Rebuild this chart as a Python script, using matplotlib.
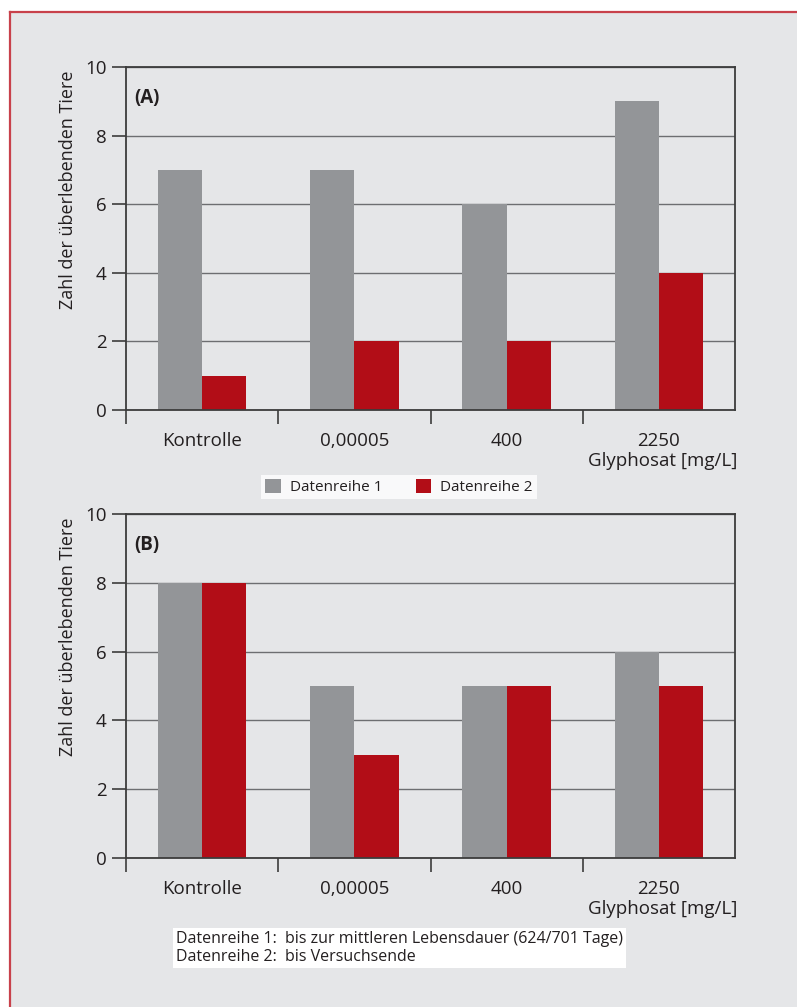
import matplotlib
matplotlib.use("Agg")
import matplotlib.pyplot as plt
from matplotlib.patches import Rectangle, Patch
from matplotlib.lines import Line2D

plt.rcParams['font.family'] = ['Open Sans', 'DejaVu Sans']

# Data
categories = ["Kontrolle", "0,00005", "400", "2250"]
series_names = ["Datenreihe 1", "Datenreihe 2"]
a_reihe1 = [7, 7, 6, 9]
a_reihe2 = [1, 2, 2, 4]
b_reihe1 = [8, 5, 5, 6]
b_reihe2 = [8, 3, 5, 5]
panel_labels = ["(A)", "(B)"]
ylabel = "Zahl der überlebenden Tiere"
xlabel = "Glyphosat [mg/L]"
notes = ["Datenreihe 1:  bis zur mittleren Lebensdauer (624/701 Tage)",
         "Datenreihe 2:  bis Versuchsende"]

bg = "#e5e6e8"
grey = "#939598"
red = "#b20d17"
dark = "#3c3c3c"
txt = "#231f20"

W, H = 797, 1007
fig = plt.figure(figsize=(W / 100, H / 100), dpi=100)
fig.patch.set_facecolor("white")

# background panel with red frame on top and left
fig.add_artist(Rectangle((10 / W, 0), 1, 1 - 12 / H, transform=fig.transFigure,
                         facecolor=bg, edgecolor="none", zorder=0))
fig.add_artist(Line2D([10 / W, 1], [1 - 12 / H, 1 - 12 / H], transform=fig.transFigure,
                      color="#c8414b", lw=1.6))
fig.add_artist(Line2D([10 / W, 10 / W], [0, 1 - 12 / H], transform=fig.transFigure,
                      color="#c8414b", lw=1.6))

left = 126 / W
width = (735 - 126) / W


def panel(top_px, zero_px, r1, r2, label):
    ax = fig.add_axes([left, 1 - zero_px / H, width, (zero_px - top_px) / H])
    ax.set_facecolor(bg)
    x = range(len(categories))
    bw = 0.29
    ax.bar([i - bw for i in x], r1, width=bw, align="edge", color=grey, zorder=2)
    ax.bar(list(x), r2, width=bw, align="edge", color=red, zorder=2)
    ax.set_xlim(-0.5, len(categories) - 0.5)
    ax.set_ylim(0, 10)
    ax.set_yticks([0, 2, 4, 6, 8, 10])
    ax.yaxis.grid(True, color="#6d6e71", lw=1.0, zorder=1)
    ax.set_axisbelow(True)
    ax.tick_params(axis="y", direction="out", length=10, width=1.2, color=dark,
                   labelsize=13.5, labelcolor=txt, pad=4)
    # boundary ticks (major) and label positions (minor)
    ax.set_xticks([-0.5, 0.5, 1.5, 2.5])
    ax.set_xticklabels([])
    ax.set_xticks(list(x), minor=True)
    ax.set_xticklabels(categories, minor=True)
    ax.tick_params(axis="x", which="major", direction="out", length=10, width=1.2, color=dark)
    ax.tick_params(axis="x", which="minor", length=0, labelsize=13.5, labelcolor=txt, pad=16)
    for s in ax.spines.values():
        s.set_color(dark)
        s.set_linewidth(1.3)
    ax.text(0.013, 0.91, label, transform=ax.transAxes, fontsize=13.5,
            fontweight="bold", color=txt, va="center", ha="left")
    ax.text(-0.095, 0.99, ylabel, transform=ax.transAxes, fontsize=13, color=txt,
            rotation=90, ha="center", va="top")
    ax.text(1.004, -0.148, xlabel, transform=ax.transAxes, fontsize=13.5,
            color=txt, ha="right", va="center")
    return ax


panel(67, 410, a_reihe1, a_reihe2, panel_labels[0])
panel(514, 858, b_reihe1, b_reihe2, panel_labels[1])

handles = [Patch(facecolor=grey, edgecolor="none"), Patch(facecolor=red, edgecolor="none")]
leg = fig.legend(handles, series_names, loc="center", bbox_to_anchor=(399 / W, 1 - 487 / H),
                 ncol=2, frameon=True, fancybox=False, fontsize=11, handlelength=1.0,
                 handleheight=1.0, handletextpad=0.6, columnspacing=2.2, borderpad=0.25,
                 borderaxespad=0)
leg.get_frame().set_facecolor("white")
leg.get_frame().set_edgecolor("white")
leg.get_frame().set_linewidth(0)
for t in leg.get_texts():
    t.set_color(txt)

fig.text(176 / W, 1 - 948 / H, "\n".join(notes), fontsize=11.5, color=txt,
         ha="left", va="center", linespacing=1.2,
         bbox=dict(facecolor="white", edgecolor="none", boxstyle="square,pad=0.2"))

fig.savefig("out.png", dpi=100, facecolor=fig.get_facecolor())
